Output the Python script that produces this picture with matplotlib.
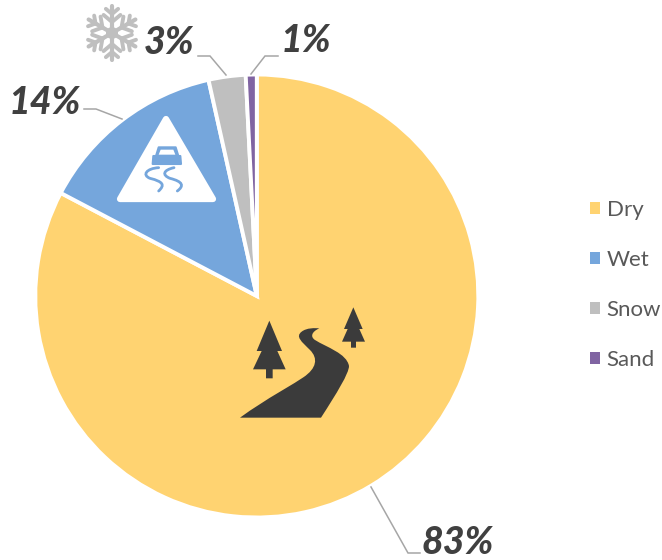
import numpy as np
import matplotlib
matplotlib.use("Agg")
import matplotlib.pyplot as plt
from matplotlib.path import Path
from matplotlib.patches import PathPatch, Polygon, Circle

plt.rcParams['font.family'] = ['Lato', 'DejaVu Sans']

categories = ["Dry", "Wet", "Snow", "Sand"]
values = [82.7, 13.8, 2.7, 0.8]
colors = ["#FFD371", "#75A6DC", "#BFBFBF", "#8064A2"]
pct_labels = ["83%", "14%", "3%", "1%"]

W, H = 662, 560
fig = plt.figure(figsize=(W / 100, H / 100), dpi=100)

# pie
cx, cy, R = 256.8, 296, 221.5
ax = fig.add_axes([(cx - R) / W, 1 - (cy + R) / H, 2 * R / W, 2 * R / H])
wedges, _ = ax.pie(values, colors=colors, startangle=90, counterclock=False, radius=1,
                   wedgeprops=dict(edgecolor="white", linewidth=2.8))
ax.set_xlim(-1, 1)
ax.set_ylim(-1, 1)

# overlay in pixel coordinates
ov = fig.add_axes([0, 0, 1, 1])
ov.set_xlim(0, W)
ov.set_ylim(H, 0)
ov.axis("off")
ov.patch.set_alpha(0)

# leader lines
leaders = [
    [(371, 487), (408, 553), (420, 553)],
    [(122, 119), (96, 109), (84, 109)],
    [(226, 75), (210, 56), (198, 56)],
    [(251, 74), (265, 56), (278, 56)],
]
for pts in leaders:
    xs, ys = zip(*pts)
    ov.plot(xs, ys, color="#A6A6A6", lw=1.1, solid_joinstyle="miter")

# percentage labels
label_pos = [(458, 543), (45, 102), (169, 43), (306, 41)]
for (x, y), s in zip(label_pos, pct_labels):
    ov.text(x, y, s, ha="center", va="center", fontsize=27, fontweight=900,
            fontstyle="italic", color="#404040")

# road and trees icon
def z2(p):
    return [(220 + a / 3, 290 + b / 3) for a, b in p]

dark = "#3B3B3B"
road_v = z2([(60, 383),
             (140, 325), (225, 280), (250, 262),
             (290, 235), (295, 205), (270, 180),
             (245, 155), (225, 140), (245, 125),
             (260, 113), (285, 114), (298, 115),
             (275, 125), (270, 140), (285, 150),
             (320, 172), (380, 190), (387, 228),
             (387, 250), (350, 310), (303, 383),
             (60, 383)])
road_c = [Path.MOVETO] + [Path.CURVE4] * 21 + [Path.CLOSEPOLY]
ov.add_patch(PathPatch(Path(road_v, road_c), fc=dark, ec="none"))

tree1 = z2([(148, 92), (186, 183), (172, 183), (197, 238), (158, 238), (158, 265), (138, 265),
            (138, 238), (99, 238), (125, 183), (110, 183)])
tree2 = z2([(400, 52), (428, 117), (418, 117), (435, 155), (408, 155), (408, 173), (393, 173),
            (393, 155), (366, 155), (383, 117), (372, 117)])
for t in (tree1, tree2):
    ov.add_patch(Polygon(t, closed=True, fc=dark, ec="none"))

# warning triangle with a car
ov.add_patch(Polygon([(166, 119), (120, 199), (213, 199)], closed=True, fc="white", ec="white",
                     lw=4.5, joinstyle="round"))
blue = colors[1]
def z1(p):
    return [(a / 3, b / 3) for a, b in p]
car = z1([(460, 468), (468, 468), (476, 442), (527, 442), (535, 468), (541, 468),
          (543, 492), (458, 492)])
ov.add_patch(Polygon(car, closed=True, fc=blue, ec=blue, lw=1.5, joinstyle="round"))
ov.add_patch(Polygon(z1([(476, 464), (482, 449), (520, 449), (526, 464)]), closed=True, fc="white", ec="none"))
skids = [
    [(476, 503), (440, 505), (425, 525), (450, 535), (490, 545), (495, 555), (476, 573)],
    [(522, 503), (490, 510), (485, 525), (510, 535), (550, 545), (552, 558), (532, 573)],
]
for pts in skids:
    ov.add_patch(PathPatch(Path(z1(pts), [Path.MOVETO] + [Path.CURVE4] * 6), fc="none", ec=blue, lw=2.0,
                           capstyle="round"))

# snowflake
sx, sy = 112, 33
snow = colors[2]
for a in np.deg2rad(np.arange(30, 390, 60)):
    d = np.array([np.cos(a), np.sin(a)])
    ov.plot([sx, sx + 27 * d[0]], [sy, sy + 27 * d[1]], color=snow, lw=3.0, solid_capstyle="round")
    for pos, size in ((11, 11), (19, 8)):
        base = np.array([sx, sy]) + pos * d
        for s in (-1, 1):
            b = a + s * np.deg2rad(50)
            e = base + size * np.array([np.cos(b), np.sin(b)])
            ov.plot([base[0], e[0]], [base[1], e[1]], color=snow, lw=2.8, solid_capstyle="round")
ov.add_patch(Circle((sx, sy), 6, fc=snow, ec="none"))

# legend
leg = fig.legend(wedges, categories, loc="upper left", bbox_to_anchor=(590 / W, 1 - 199.5 / H),
                 frameon=False, fontsize=16, labelcolor="#595959", handlelength=0.45, handleheight=0.45,
                 handletextpad=0.3, labelspacing=1.36, borderpad=0, borderaxespad=0)
for h in leg.legend_handles:
    h.set_edgecolor("none")
    h.set_linewidth(0)

fig.savefig("out.png", dpi=100)
